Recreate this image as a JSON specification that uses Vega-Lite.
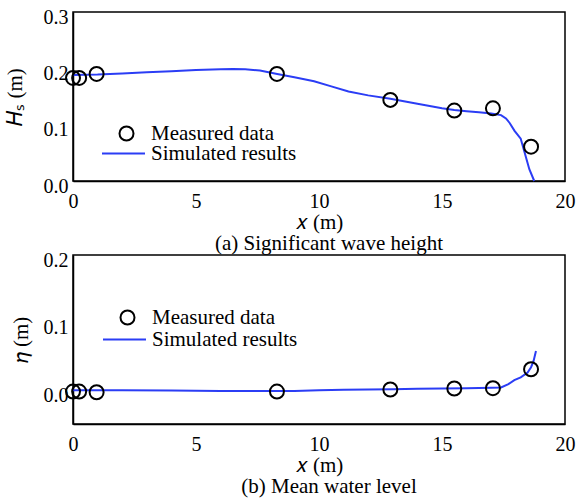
{
  "$schema": "https://vega.github.io/schema/vega-lite/v6.json",
  "padding": {"left": 3, "top": 6, "right": 0, "bottom": 0},
  "background": "white",
  "config": {
    "font": "Liberation Serif",
    "view": {"stroke": "black", "strokeWidth": 1.5},
    "axis": {
      "ticks": false,
      "grid": false,
      "domainColor": "black",
      "domainWidth": 1.5,
      "labelFont": "Liberation Serif",
      "labelFontSize": 20,
      "labelColor": "black",
      "labelOverlap": false,
      "labelFlush": false,
      "titleFont": "Liberation Serif",
      "titleFontSize": 21,
      "titleFontWeight": "normal",
      "titleColor": "black"
    },
    "legend": {
      "padding": 0,
      "labelFont": "Liberation Serif",
      "labelFontSize": 21,
      "labelColor": "black",
      "labelLimit": 300
    },
    "title": {
      "font": "Liberation Serif",
      "fontSize": 21,
      "fontWeight": "normal",
      "color": "black",
      "orient": "bottom",
      "anchor": "middle"
    }
  },
  "datasets": {
    "xTicks": [
      {"x": 0}, {"x": 2.5}, {"x": 5}, {"x": 7.5}, {"x": 10},
      {"x": 12.5}, {"x": 15}, {"x": 17.5}, {"x": 20}
    ],
    "hsTicks": [
      {"hs": 0}, {"hs": 0.05}, {"hs": 0.1}, {"hs": 0.15}, {"hs": 0.2}, {"hs": 0.25}, {"hs": 0.3}
    ],
    "etaTicks": [
      {"eta": -0.05}, {"eta": 0}, {"eta": 0.05}, {"eta": 0.1}, {"eta": 0.15}, {"eta": 0.2}
    ],
    "hsMeasured": [
      {"x": 0.0, "hs": 0.183},
      {"x": 0.25, "hs": 0.183},
      {"x": 0.96, "hs": 0.19},
      {"x": 8.29, "hs": 0.19},
      {"x": 12.9, "hs": 0.144},
      {"x": 15.5, "hs": 0.125},
      {"x": 17.07, "hs": 0.129},
      {"x": 18.62, "hs": 0.061}
    ],
    "hsSimulated": [
      {"x": 0, "hs": 0.188},
      {"x": 1, "hs": 0.189},
      {"x": 2, "hs": 0.191},
      {"x": 3, "hs": 0.193},
      {"x": 4, "hs": 0.195},
      {"x": 5, "hs": 0.197},
      {"x": 6, "hs": 0.1985},
      {"x": 6.5, "hs": 0.199},
      {"x": 7, "hs": 0.1985},
      {"x": 7.6, "hs": 0.196},
      {"x": 8.3, "hs": 0.19},
      {"x": 9, "hs": 0.184},
      {"x": 9.8, "hs": 0.177},
      {"x": 10.5, "hs": 0.168},
      {"x": 11.2, "hs": 0.159},
      {"x": 12, "hs": 0.152},
      {"x": 12.9, "hs": 0.146},
      {"x": 14, "hs": 0.137},
      {"x": 15, "hs": 0.129},
      {"x": 15.5, "hs": 0.126},
      {"x": 16, "hs": 0.124},
      {"x": 16.5, "hs": 0.122},
      {"x": 17, "hs": 0.12},
      {"x": 17.4, "hs": 0.117},
      {"x": 17.6, "hs": 0.111},
      {"x": 17.75, "hs": 0.103},
      {"x": 17.95, "hs": 0.089},
      {"x": 18.2, "hs": 0.075},
      {"x": 18.35, "hs": 0.052},
      {"x": 18.55, "hs": 0.021},
      {"x": 18.75, "hs": 0.0}
    ],
    "etaMeasured": [
      {"x": 0.0, "eta": -0.002},
      {"x": 0.25, "eta": -0.002},
      {"x": 0.96, "eta": -0.003},
      {"x": 8.29, "eta": -0.002},
      {"x": 12.9, "eta": 0.001},
      {"x": 15.5, "eta": 0.0025},
      {"x": 17.07, "eta": 0.003},
      {"x": 18.62, "eta": 0.031}
    ],
    "etaSimulated": [
      {"x": 0, "eta": 0.0},
      {"x": 2, "eta": 0.0},
      {"x": 4, "eta": -0.0005},
      {"x": 6, "eta": -0.001},
      {"x": 8, "eta": -0.001},
      {"x": 9, "eta": -0.001},
      {"x": 10, "eta": 0.0},
      {"x": 11, "eta": 0.0005},
      {"x": 12, "eta": 0.001},
      {"x": 13, "eta": 0.0015},
      {"x": 14, "eta": 0.002},
      {"x": 15, "eta": 0.0025},
      {"x": 16, "eta": 0.003},
      {"x": 17, "eta": 0.0035},
      {"x": 17.4, "eta": 0.004},
      {"x": 17.7, "eta": 0.009},
      {"x": 17.94, "eta": 0.015},
      {"x": 18.2, "eta": 0.019},
      {"x": 18.48, "eta": 0.026},
      {"x": 18.62, "eta": 0.034},
      {"x": 18.72, "eta": 0.043},
      {"x": 18.82, "eta": 0.058}
    ]
  },
  "bounds": "flush",
  "spacing": 74,
  "resolve": {"scale": {"color": "independent", "shape": "independent"}},
  "vconcat": [
    {
      "width": 492,
      "height": 169,
      "title": {"text": "(a) Significant wave height", "offset": 1, "dx": 10},
      "encoding": {
        "x": {
          "field": "x", "type": "quantitative",
          "scale": {"domain": [0, 20], "nice": false},
          "axis": {
            "title": "𝑥 (m)", "titlePadding": 0,
            "values": [0, 5, 10, 15, 20], "format": "~g",
            "labelPadding": 10
          }
        },
        "y": {
          "field": "hs", "type": "quantitative",
          "scale": {"domain": [0, 0.3], "nice": false},
          "axis": {
            "title": "𝐻ₛ (m)", "titlePadding": 18,
            "values": [0, 0.1, 0.2, 0.3], "format": ".1f",
            "labelPadding": 5, "labelOffset": 5
          }
        }
      },
      "layer": [
        {
          "data": {"name": "xTicks"},
          "mark": {"type": "point", "shape": "M0,0L0,-1", "size": 100, "filled": false, "color": "black", "strokeWidth": 1.2, "opacity": 1},
          "encoding": {"y": {"datum": 0, "type": "quantitative"}}
        },
        {
          "data": {"name": "xTicks"},
          "mark": {"type": "point", "shape": "M0,0L0,1", "size": 100, "filled": false, "color": "black", "strokeWidth": 1.2, "opacity": 1},
          "encoding": {"y": {"datum": 0.3, "type": "quantitative"}}
        },
        {
          "data": {"name": "hsTicks"},
          "mark": {"type": "point", "shape": "M0,0L1,0", "size": 100, "filled": false, "color": "black", "strokeWidth": 1.2, "opacity": 1},
          "encoding": {"x": {"datum": 0, "type": "quantitative"}}
        },
        {
          "data": {"name": "hsTicks"},
          "mark": {"type": "point", "shape": "M0,0L-1,0", "size": 100, "filled": false, "color": "black", "strokeWidth": 1.2, "opacity": 1},
          "encoding": {"x": {"datum": 20, "type": "quantitative"}}
        },
        {
          "data": {"name": "hsSimulated"},
          "mark": {"type": "line", "strokeWidth": 2},
          "encoding": {
            "color": {
              "datum": "Simulated results",
              "scale": {"range": ["#2b3df5"]},
              "legend": {
                "orient": "none", "legendX": 28, "legendY": 119,
                "title": null, "symbolType": "stroke", "symbolSize": 1849,
                "symbolStrokeWidth": 2, "labelOffset": 5
              }
            }
          }
        },
        {
          "data": {"name": "hsMeasured"},
          "mark": {"type": "point", "filled": false, "size": 196, "strokeWidth": 2, "color": "black", "opacity": 1},
          "encoding": {
            "shape": {
              "datum": "Measured data",
              "scale": {"range": ["circle"]},
              "legend": {
                "orient": "none", "legendX": 43, "legendY": 111,
                "title": null, "symbolSize": 196, "symbolStrokeWidth": 2,
                "symbolStrokeColor": "black", "symbolFillColor": "transparent",
                "labelOffset": 14
              }
            }
          }
        }
      ]
    },
    {
      "width": 492,
      "height": 169,
      "title": {"text": "(b) Mean water level", "offset": 1, "dx": 10},
      "encoding": {
        "x": {
          "field": "x", "type": "quantitative",
          "scale": {"domain": [0, 20], "nice": false},
          "axis": {
            "title": "𝑥 (m)", "titlePadding": 0,
            "values": [0, 5, 10, 15, 20], "format": "~g",
            "labelPadding": 10
          }
        },
        "y": {
          "field": "eta", "type": "quantitative",
          "scale": {"domain": [-0.05, 0.2], "nice": false},
          "axis": {
            "title": "𝜂 (m)", "titlePadding": 12,
            "values": [0, 0.1, 0.2], "format": ".1f",
            "labelPadding": 5, "labelOffset": 5
          }
        }
      },
      "layer": [
        {
          "data": {"name": "xTicks"},
          "mark": {"type": "point", "shape": "M0,0L0,-1", "size": 100, "filled": false, "color": "black", "strokeWidth": 1.2, "opacity": 1},
          "encoding": {"y": {"datum": -0.05, "type": "quantitative"}}
        },
        {
          "data": {"name": "xTicks"},
          "mark": {"type": "point", "shape": "M0,0L0,1", "size": 100, "filled": false, "color": "black", "strokeWidth": 1.2, "opacity": 1},
          "encoding": {"y": {"datum": 0.2, "type": "quantitative"}}
        },
        {
          "data": {"name": "etaTicks"},
          "mark": {"type": "point", "shape": "M0,0L1,0", "size": 100, "filled": false, "color": "black", "strokeWidth": 1.2, "opacity": 1},
          "encoding": {"x": {"datum": 0, "type": "quantitative"}}
        },
        {
          "data": {"name": "etaTicks"},
          "mark": {"type": "point", "shape": "M0,0L-1,0", "size": 100, "filled": false, "color": "black", "strokeWidth": 1.2, "opacity": 1},
          "encoding": {"x": {"datum": 20, "type": "quantitative"}}
        },
        {
          "data": {"name": "etaSimulated"},
          "mark": {"type": "line", "strokeWidth": 2},
          "encoding": {
            "color": {
              "datum": "Simulated results",
              "scale": {"range": ["#2b3df5"]},
              "legend": {
                "orient": "none", "legendX": 29, "legendY": 62,
                "title": null, "symbolType": "stroke", "symbolSize": 1849,
                "symbolStrokeWidth": 2, "labelOffset": 5
              }
            }
          }
        },
        {
          "data": {"name": "etaMeasured"},
          "mark": {"type": "point", "filled": false, "size": 196, "strokeWidth": 2, "color": "black", "opacity": 1},
          "encoding": {
            "shape": {
              "datum": "Measured data",
              "scale": {"range": ["circle"]},
              "legend": {
                "orient": "none", "legendX": 44, "legendY": 52,
                "title": null, "symbolSize": 196, "symbolStrokeWidth": 2,
                "symbolStrokeColor": "black", "symbolFillColor": "transparent",
                "labelOffset": 14
              }
            }
          }
        }
      ]
    }
  ]
}
